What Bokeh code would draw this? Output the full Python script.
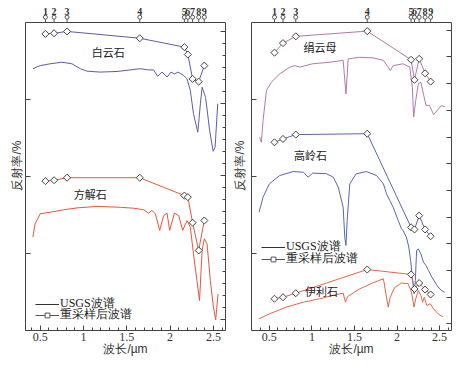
import numpy as np
from bokeh.plotting import figure
from bokeh.models import Range1d, LinearAxis, FixedTicker, Span, Legend, LegendItem, Label
from bokeh.layouts import row
from bokeh.core.properties import value
from bokeh.embed import file_html
from bokeh.resources import INLINE

# ASTER band centres (um) and their labels
bands = [0.56, 0.66, 0.81, 1.65, 2.165, 2.205, 2.26, 2.33, 2.395]
band_labels = ["1", "2", "3", "4", "5", "6", "7", "8", "9"]

# Dolomite (白云石)
dol_wl = [0.416, 0.5, 0.616, 0.75, 0.866, 0.962, 1.04, 1.19, 1.387, 1.54, 1.656, 1.75, 1.81, 1.856,
          1.907, 1.965, 2.01, 2.05, 2.09, 2.157, 2.196, 2.234, 2.27, 2.32, 2.35, 2.37, 2.41, 2.457,
          2.497, 2.52, 2.55]
dol_r = [85.0, 86.0, 86.6, 87.1, 86.6, 85.0, 84.2, 83.9, 84.1, 84.6, 85.0, 84.6, 84.6, 82.5,
         83.9, 82.3, 83.9, 83.3, 83.9, 82.8, 81.7, 77.9, 70.4, 64.4, 73.6, 79.0, 75.7, 64.9,
         58.2, 59.5, 73.6]
dol_res = [96.3, 96.5, 97.1, 94.9, 92.0, 89.6, 81.7, 80.8, 86.0]

# Calcite (方解石)
cal_wl = [0.416, 0.44, 0.5, 0.616, 0.77, 0.924, 1.155, 1.425, 1.58, 1.694, 1.752, 1.79, 1.83, 1.88,
          1.925, 1.965, 1.995, 2.05, 2.1, 2.145, 2.196, 2.234, 2.27, 2.31, 2.34, 2.37, 2.396, 2.427,
          2.465, 2.5, 2.527, 2.554]
cal_r = [30.3, 34.6, 37.9, 38.4, 39.2, 39.8, 40.3, 40.0, 39.7, 39.2, 38.1, 39.0, 37.9, 32.5,
         37.3, 38.1, 32.5, 38.1, 37.3, 32.5, 35.7, 33.5, 24.9, 16.2, 9.7, 26.0, 29.8, 28.1,
         16.2, 7.6, 3.5, 11.9]
cal_res = [48.5, 48.8, 49.6, 49.6, 43.8, 43.3, 35.0, 26.0, 35.7]

# Sericite (绢云母)
ser_wl = [0.386, 0.406, 0.426, 0.465, 0.524, 0.62, 0.74, 0.8, 0.856, 1.01, 1.21, 1.367, 1.4, 1.426,
          1.56, 1.72, 1.84, 1.896, 1.92, 1.955, 2.07, 2.15, 2.18, 2.195, 2.22, 2.25, 2.28, 2.31,
          2.34, 2.38, 2.43, 2.47, 2.52, 2.56]
ser_r = [62.8, 61.1, 68.2, 77.9, 80.6, 83.3, 85.5, 86.0, 85.5, 86.6, 87.1, 87.7, 76.8, 88.2,
         88.7, 88.5, 87.7, 85.5, 84.4, 86.0, 86.6, 85.5, 79.0, 69.3, 74.7, 80.1, 80.6, 76.8,
         73.1, 73.1, 70.1, 71.4, 73.0, 72.7]
ser_res = [90.2, 93.3, 95.5, 97.2, 87.9, 81.4, 88.2, 83.5, 80.8]

# Kaolinite (高岭石)
kao_wl = [0.379, 0.426, 0.5, 0.62, 0.78, 0.9, 0.955, 1.01, 1.17, 1.25, 1.31, 1.367, 1.386, 1.4,
          1.414, 1.445, 1.52, 1.64, 1.76, 1.84, 1.876, 1.915, 1.955, 2.014, 2.053, 2.07, 2.11,
          2.138, 2.16, 2.18, 2.2, 2.215, 2.23, 2.25, 2.28, 2.31, 2.34, 2.37, 2.41, 2.47, 2.52, 2.56]
kao_r = [38.4, 43.3, 47.6, 50.3, 51.6, 51.4, 49.8, 51.1, 50.9, 49.8, 46.5, 40.0, 30.3, 27.6,
         35.7, 47.6, 50.9, 51.6, 50.3, 47.6, 44.4, 42.2, 40.0, 35.7, 33.0, 32.5, 30.3,
         27.1, 22.7, 17.3, 11.9, 16.2, 26.0, 26.5, 24.9, 22.2, 21.1, 19.5, 17.3, 14.6, 13.0, 12.4]
kao_res = [61.1, 62.2, 63.6, 63.9, 33.5, 32.8, 37.3, 32.8, 30.6]

# Illite (伊利石)
ill_wl = [0.379, 0.5, 0.7, 0.9, 1.09, 1.29, 1.367, 1.394, 1.418, 1.56, 1.72, 1.84, 1.87, 1.896,
          1.92, 1.97, 2.053, 2.13, 2.17, 2.2, 2.22, 2.25, 2.28, 2.3, 2.32, 2.35, 2.39, 2.43, 2.49, 2.54]
ill_r = [3.8, 5.4, 7.6, 9.2, 10.3, 11.7, 12.1, 9.2, 11.0, 13.5, 15.5, 16.8, 11.9, 7.6,
         10.8, 13.9, 15.4, 15.2, 12.4, 7.6, 10.3, 13.0, 11.4, 9.2, 10.8, 8.1, 8.7, 7.0, 5.2, 4.5]
ill_res = [10.3, 10.8, 12.1, 19.8, 18.2, 13.5, 15.4, 13.3, 11.7]

x_title = "波长/µm"
y_title = "反射率/%"

# styles
C_DOL = "#5b5ea8"
C_CAL = "#e8553c"
C_SER = "#b47aa6"
C_KAO = "#5a66b2"
C_ILL = "#e6674a"
AX = "#444444"
SERIF = "Liberation Serif"
SANS = "Liberation Sans"
CJK = "Noto Sans CJK SC"

FRAME_H = 330
PX_Y = 3.08
YTOP = FRAME_H / PX_Y


def make_panel(x_range, series, names, leg_offsets, bl, br, ylab_standoff, right_ticks, right_minor):
    p = figure(frame_width=200, frame_height=FRAME_H, x_range=Range1d(*x_range), y_range=Range1d(0, YTOP),
               output_backend="svg", toolbar_location=None,
               min_border_left=bl, min_border_right=br, min_border_top=0, min_border_bottom=30)
    p.outline_line_color = None
    p.grid.visible = False
    p.background_fill_color = "white"

    # bottom axis
    xa = p.xaxis[0]
    xa.ticker = FixedTicker(ticks=[0.5, 1.0, 1.5, 2.0, 2.5],
                            minor_ticks=[round(0.4 + 0.1 * i, 2) for i in range(23)])
    xa.major_tick_in = 5
    xa.major_tick_out = 0
    xa.minor_tick_in = 3
    xa.minor_tick_out = 0
    xa.axis_line_color = AX
    xa.major_tick_line_color = AX
    xa.minor_tick_line_color = AX
    xa.major_label_text_font = SERIF
    xa.major_label_text_font_size = "12px"
    xa.major_label_text_color = "#333333"
    xa.major_label_standoff = 2
    xa.axis_label = x_title
    xa.axis_label_text_font = SANS
    xa.axis_label_text_font_style = "normal"
    xa.axis_label_text_font_size = "12px"
    xa.axis_label_text_color = "#333333"
    xa.axis_label_standoff = -2

    # left axis
    ya = p.yaxis[0]
    ya.bounds = (0, 100)
    yt = [0, 25, 50, 75, 100]
    ya.ticker = FixedTicker(ticks=yt, minor_ticks=[])
    ya.major_label_overrides = {t: "" for t in yt}
    ya.major_tick_in = 5
    ya.major_tick_out = 0
    ya.minor_tick_in = 0
    ya.minor_tick_out = 0
    ya.axis_line_color = AX
    ya.major_tick_line_color = AX
    ya.major_label_standoff = 0
    ya.axis_label = y_title
    ya.axis_label_text_font = SANS
    ya.axis_label_text_font_style = "normal"
    ya.axis_label_text_font_size = "12px"
    ya.axis_label_text_color = "#333333"
    ya.axis_label_standoff = ylab_standoff

    # right axis
    ra = LinearAxis(bounds=(0, 100), ticker=FixedTicker(ticks=right_ticks, minor_ticks=right_minor))
    ra.major_label_overrides = {t: "" for t in right_ticks}
    ra.major_tick_in = 5
    ra.major_tick_out = 0
    ra.minor_tick_in = 3
    ra.minor_tick_out = 0
    ra.axis_line_color = AX
    ra.major_tick_line_color = AX
    ra.minor_tick_line_color = AX
    ra.major_label_standoff = 0
    p.add_layout(ra, "right")

    # top border of the box
    p.add_layout(Span(location=100, dimension="width", line_color=AX, line_width=1))

    # band pins above the box
    n = len(bands)
    p.segment(x0=bands, y0=[100] * n, x1=bands, y1=[100 + 3.5 / PX_Y] * n,
              line_color="#555555", line_width=1)
    p.scatter(bands, [100 + 5.3 / PX_Y] * n, marker="circle", size=4, fill_color="white",
              line_color="#555555", line_width=1)
    p.text(bands, [100 + 11.3 / PX_Y] * n, text=band_labels, text_font=value(SERIF),
           text_font_style="bold", text_font_size="10px", text_align="center",
           text_baseline="middle", text_color="#333333")

    for wl, r, res, col in series:
        p.line(wl, r, line_color=col, line_width=1)
        p.line(bands, res, line_color=col, line_width=1)
        p.scatter(bands, res, marker="square", angle=np.pi / 4, size=5, fill_color="white",
                  line_color="#444444", line_width=1)

    for name, x, y in names:
        p.add_layout(Label(x=x, y=y, text=name, text_align="center", text_baseline="middle",
                           text_font=CJK, text_font_size="11px", text_color="#222222"))

    # legend (two single-item legends so that the rows sit close together)
    l1 = p.line([np.nan], [np.nan], line_color="#333333", line_width=1)
    l2 = p.line([np.nan], [np.nan], line_color="#555555", line_width=1)
    l3 = p.scatter([np.nan], [np.nan], marker="square", angle=np.pi / 4, size=4, fill_color="white",
                   line_color="#555555", line_width=1)
    items = [LegendItem(label="USGS波谱", renderers=[l1]),
             LegendItem(label="重采样后波谱", renderers=[l2, l3])]
    for item, off in zip(items, leg_offsets):
        leg = Legend(items=[item], location=off, padding=0, margin=0, spacing=0,
                     glyph_width=24, glyph_height=12, label_height=12, label_standoff=1,
                     label_text_font=SERIF, label_text_font_size="12px", label_text_color="#222222",
                     background_fill_alpha=0, border_line_color=None)
        p.add_layout(leg)
    return p


left_rt = [3.6, 27.0, 50.4, 73.8, 97.2]
left_rm = [round(3.6 + 3.9 * i, 2) for i in range(25)]
right_rt = [round(2.2 + 8.66 * i, 2) for i in range(12)]

p1 = make_panel((0.33, 2.64),
                [(dol_wl, dol_r, dol_res, C_DOL), (cal_wl, cal_r, cal_res, C_CAL)],
                [("白云石", 1.286, 90.3), ("方解石", 1.078, 44.3)],
                [(10, 18), (10, 7)], 25, 4, 2, left_rt, left_rm)
p2 = make_panel((0.29, 2.64),
                [(ser_wl, ser_r, ser_res, C_SER), (kao_wl, kao_r, kao_res, C_KAO),
                 (ill_wl, ill_r, ill_res, C_ILL)],
                [("绢云母", 1.094, 92.2), ("高岭石", 0.982, 57.0), ("伊利石", 1.112, 12.7)],
                [(10, 75), (10, 63)], 21, 12, 5, right_rt, [])

layout = row(p1, p2)
open("out.html", "w").write(file_html(layout, INLINE))
